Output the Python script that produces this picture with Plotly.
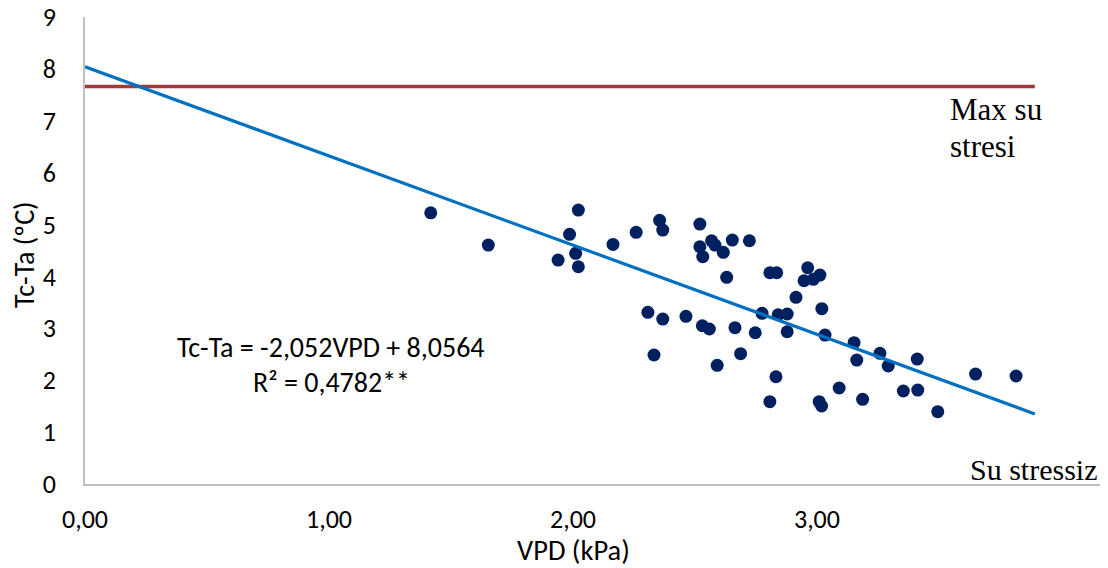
import plotly.graph_objects as go

# Scatter data (VPD kPa, Tc-Ta °C)
vpd = [1.417, 1.653, 2.022, 1.986, 2.011, 1.939, 2.022, 2.164, 2.259, 2.355,
       2.368, 2.520, 2.520, 2.568, 2.582, 2.532, 2.616, 2.653, 2.723, 2.630,
       2.807, 2.835, 2.962, 2.947, 2.985, 3.012, 2.914, 3.020, 2.307, 2.368,
       2.463, 2.530, 2.559, 2.664, 2.747, 2.775, 2.841, 2.878, 2.878, 3.033,
       2.332, 2.687, 2.591, 2.832, 3.152, 3.163, 3.258, 3.292, 3.411, 2.807,
       3.009, 3.019, 3.091, 3.187, 3.354, 3.413, 3.495, 3.650, 3.816]
tcta = [5.227, 4.605, 5.279, 4.811, 4.445, 4.316, 4.187, 4.618, 4.850, 5.081,
        4.894, 5.010, 4.572, 4.688, 4.605, 4.380, 4.464, 4.701, 4.688, 3.983,
        4.071, 4.071, 4.168, 3.917, 3.944, 4.027, 3.597, 3.378, 3.308, 3.179,
        3.231, 3.050, 2.987, 3.012, 2.915, 3.289, 3.262, 3.276, 2.934, 2.871,
        2.486, 2.511, 2.287, 2.067, 2.723, 2.389, 2.518, 2.274, 2.408, 1.586,
        1.586, 1.503, 1.850, 1.632, 1.792, 1.811, 1.393, 2.119, 2.081]

# Trend line and max-stress line endpoints (as drawn)
trend_x = [0.0, 3.893]
trend_y = [8.04, 1.35]
max_x = [0.0, 3.893]
max_y = [7.66, 7.66]

x_tickvals = [0, 1, 2, 3]
x_ticktext = ["0,00", "1,00", "2,00", "3,00"]
y_tickvals = [0, 1, 2, 3, 4, 5, 6, 7, 8, 9]

equation = "Tc-Ta = -2,052VPD + 8,0564"
r2_text = "R² = 0,4782**"

SANS = "Calibri, Carlito, Lato, sans-serif"
SERIF = "Times New Roman, Liberation Serif, serif"

# plot area in screenshot pixels: x 85..1100, y 17..484
PX0, PX1, PY0, PY1 = 85, 1100, 17, 484


def px(x):
    return (x - PX0) / (PX1 - PX0)


def py(y):
    return (PY1 - y) / (PY1 - PY0)


fig = go.Figure()
fig.add_trace(go.Scatter(x=vpd, y=tcta, mode="markers",
                         marker=dict(color="#002060", size=13, line=dict(width=0)),
                         showlegend=False, hoverinfo="x+y"))
fig.add_trace(go.Scatter(x=max_x, y=max_y, mode="lines",
                         line=dict(color="#9E3A38", width=3.5),
                         showlegend=False))
fig.add_trace(go.Scatter(x=trend_x, y=trend_y, mode="lines",
                         line=dict(color="#0070C0", width=3.2),
                         showlegend=False))

fig.update_layout(
    width=1100, height=560,
    margin=dict(l=77, r=8, t=9, b=84, autoexpand=False),
    paper_bgcolor="white", plot_bgcolor="white",
    font=dict(family=SANS, size=26, color="#000000"),
    xaxis=dict(range=[0, 4.16], tickvals=x_tickvals, ticktext=x_ticktext,
               showgrid=False, zeroline=False, showline=True,
               linecolor="#BFBFBF", linewidth=1.5, ticks="",
               ticklabelstandoff=11, ticklabeloverflow="allow", automargin=False,
               tickfont=dict(family=SANS, size=26, color="#000000")),
    yaxis=dict(range=[0, 9], tickvals=y_tickvals,
               showgrid=False, zeroline=False, showline=True,
               linecolor="#BFBFBF", linewidth=1.5, ticks="",
               ticklabelstandoff=22, ticklabeloverflow="allow", automargin=False,
               tickfont=dict(family=SANS, size=26, color="#000000")),
    annotations=[
        dict(text=equation, xref="paper", yref="paper",
             x=px(331), y=py(347),
             xanchor="center", yanchor="middle", showarrow=False,
             font=dict(family=SANS, size=28, color="#000000")),
        dict(text=r2_text, xref="paper", yref="paper",
             x=px(331), y=py(382),
             xanchor="center", yanchor="middle", showarrow=False,
             font=dict(family=SANS, size=28, color="#000000")),
        dict(text="Max su", xref="paper", yref="paper",
             x=px(948), y=py(110),
             xanchor="left", yanchor="middle", showarrow=False,
             font=dict(family=SERIF, size=31, color="#000000")),
        dict(text="stresi", xref="paper", yref="paper",
             x=px(948), y=py(146),
             xanchor="left", yanchor="middle", showarrow=False,
             font=dict(family=SERIF, size=31, color="#000000")),
        dict(text="Su stressiz", xref="paper", yref="paper",
             x=px(1100), y=py(469),
             xanchor="right", yanchor="middle", showarrow=False,
             font=dict(family=SERIF, size=30, color="#000000")),
        dict(text="VPD (kPa)", xref="paper", yref="paper",
             x=px(573), y=py(550),
             xanchor="center", yanchor="middle", showarrow=False,
             font=dict(family=SANS, size=28.5, color="#000000")),
        dict(text="Tc-Ta (ºC)", xref="paper", yref="paper",
             x=px(24), y=py(255),
             xanchor="center", yanchor="middle", showarrow=False, textangle=-90,
             font=dict(family=SANS, size=28, color="#000000")),
    ],
)

fig.write_html("out.html")
